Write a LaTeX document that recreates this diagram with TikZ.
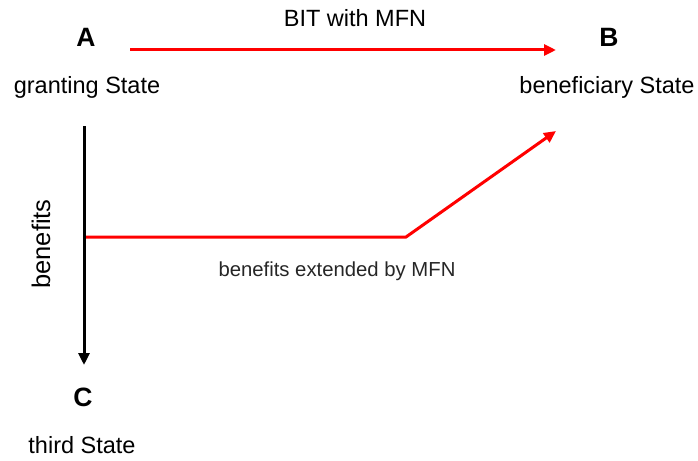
\documentclass[tikz,border=0pt]{standalone}
\usepackage{fontspec}
\setmainfont{Liberation Sans}
\usetikzlibrary{arrows.meta}
\begin{document}
\begin{tikzpicture}[x=1pt,y=-1pt,
  lbl/.style={font=\fontsize{23.5}{28}\selectfont, inner sep=0pt},
  big/.style={font=\fontsize{26.5}{30}\selectfont\bfseries, inner sep=0pt},
  small/.style={font=\fontsize{20.3}{24}\selectfont, inner sep=0pt, text=black!85},
  redarrow/.style={draw=red, line width=3pt, -{Triangle[length=12pt,width=11pt]}},
  blackarrow/.style={draw=black, line width=3pt, -{Triangle[length=12pt,width=11pt]}}]
\useasboundingbox (0,0) rectangle (698,460);
\node[big] (A) at (86,37) {A};
\node[lbl] (gA) at (87,87) {granting State};
\node[big] (B) at (609,37) {B};
\node[lbl] (gB) at (607,87) {beneficiary State};
\node[big] (C) at (83,397) {C};
\node[lbl] (gC) at (82,445) {third State};
\node[lbl] (bit) at (355,18) {BIT with MFN};
\node[lbl, font=\fontsize{25.5}{28}\selectfont, rotate=90] (ben) at (41,244) {benefits};
\node[small] (ext) at (337,271) {benefits extended by MFN};
\coordinate (a1) at (130,50);
\coordinate (b1) at (556,50);
\coordinate (v1) at (84,126);
\coordinate (v2) at (84,365);
\coordinate (r1) at (86,237);
\coordinate (r2) at (406,237);
\coordinate (r3) at (556,131);
\draw[redarrow] (a1) -- (b1);
\draw[blackarrow] (v1) -- (v2);
\draw[redarrow] (r1) -- (r2) -- (r3);
\end{tikzpicture}
\end{document}
